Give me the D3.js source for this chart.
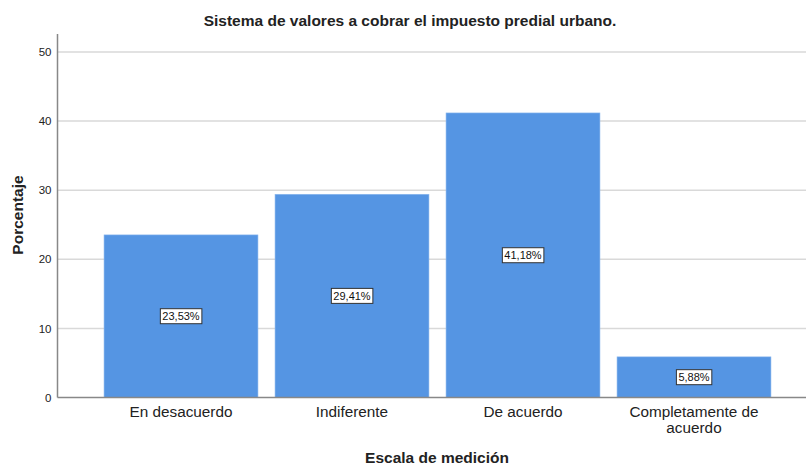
<!DOCTYPE html>
<html>
<head>
<meta charset="utf-8">
<script src="https://cdn.jsdelivr.net/npm/d3@7"></script>
<style>
  body { margin: 0; background: #fff; }
  text { font-family: Arial, "Liberation Sans", sans-serif; fill: #222; }
</style>
</head>
<body>
<div id="chart"></div>
<script>
const WIDTH = 806;
const HEIGHT = 467;

const categories = ['En desacuerdo', 'Indiferente', 'De acuerdo', 'Completamente de acuerdo'];
const percents = [23.53, 29.41, 41.18, 5.88];
const yTicks = [0, 10, 20, 30, 40, 50];

const data = categories.map((c, i) => ({ key: c, value: percents[i] }));

const xScale = d3.scaleBand()
  .domain(categories)
  .range([95.5, 779.5])
  .paddingInner(0.1)
  .paddingOuter(0.05);

const yScale = d3.scaleLinear()
  .domain([0, 50])
  .range([397.5, 52]);

const svg = d3.select('#chart')
  .append('svg')
  .attr('width', WIDTH)
  .attr('height', HEIGHT);

// gridlines
svg.append('g')
  .selectAll('line')
  .data(yTicks.filter(d => d > 0))
  .enter()
  .append('line')
  .attr('x1', 58)
  .attr('x2', WIDTH)
  .attr('y1', d => yScale(d))
  .attr('y2', d => yScale(d))
  .attr('stroke', '#d9d9d9')
  .attr('stroke-width', 1.5);

// bars
const barGroups = svg.append('g')
  .selectAll('g')
  .data(data)
  .enter()
  .append('g');

barGroups.append('rect')
  .attr('x', d => xScale(d.key))
  .attr('y', d => yScale(d.value))
  .attr('width', xScale.bandwidth())
  .attr('height', d => yScale(0) - yScale(d.value))
  .attr('fill', '#5595e3')
  .attr('stroke', '#8db8ee')
  .attr('stroke-width', 0.6);

// value labels
barGroups.each(function(d) {
  const g = d3.select(this);
  const cx = xScale(d.key) + xScale.bandwidth() / 2;
  const cy = (yScale(d.value) + yScale(0)) / 2;
  const label = g.append('text')
    .attr('x', cx)
    .attr('y', cy + 4)
    .attr('text-anchor', 'middle')
    .style('font-size', '11px')
    .style('fill', '#111')
    .text(d.value.toFixed(2).replace('.', ',') + '%');
  const bb = label.node().getBBox();
  g.insert('rect', 'text')
    .attr('x', bb.x - 2)
    .attr('y', cy - 7.5)
    .attr('width', bb.width + 4)
    .attr('height', 15)
    .attr('fill', '#fff')
    .attr('stroke', '#333')
    .attr('stroke-width', 1);
});

// y axis
const yAxis = svg.append('g')
  .attr('transform', 'translate(57.5,0)')
  .call(d3.axisLeft(yScale).tickValues(yTicks).tickSize(0).tickPadding(6));
yAxis.select('.domain').remove();
yAxis.selectAll('text').style('font-size', '11.5px').style('font-family', 'Arial, "Liberation Sans", sans-serif').attr('fill', '#222');

svg.append('line')
  .attr('x1', 57.5).attr('x2', 57.5)
  .attr('y1', 34).attr('y2', yScale(0))
  .attr('stroke', '#888').attr('stroke-width', 1.5);

svg.append('line')
  .attr('x1', 57.5).attr('x2', WIDTH)
  .attr('y1', yScale(0)).attr('y2', yScale(0))
  .attr('stroke', '#888').attr('stroke-width', 1.5);

// category labels
const catLabels = svg.append('g')
  .selectAll('text')
  .data(categories)
  .enter()
  .append('text')
  .attr('x', d => xScale(d) + xScale.bandwidth() / 2)
  .attr('y', 417)
  .attr('text-anchor', 'middle')
  .style('font-size', '15.3px');

catLabels.each(function(d) {
  const t = d3.select(this);
  const lines = d === 'Completamente de acuerdo' ? ['Completamente de', 'acuerdo'] : [d];
  lines.forEach((l, i) => {
    t.append('tspan')
      .attr('x', xScale(d) + xScale.bandwidth() / 2)
      .attr('dy', i === 0 ? 0 : 16)
      .text(l);
  });
});

// titles
svg.append('text')
  .attr('x', 410)
  .attr('y', 26)
  .attr('text-anchor', 'middle')
  .style('font-size', '15.5px')
  .style('font-weight', 'bold')
  .text('Sistema de valores a cobrar el impuesto predial urbano.');

svg.append('text')
  .attr('x', 437)
  .attr('y', 463)
  .attr('text-anchor', 'middle')
  .style('font-size', '15.5px')
  .style('font-weight', 'bold')
  .text('Escala de medición');

svg.append('text')
  .attr('transform', 'translate(23,215) rotate(-90)')
  .attr('text-anchor', 'middle')
  .style('font-size', '15.5px')
  .style('font-weight', 'bold')
  .text('Porcentaje');
</script>
</body>
</html>
